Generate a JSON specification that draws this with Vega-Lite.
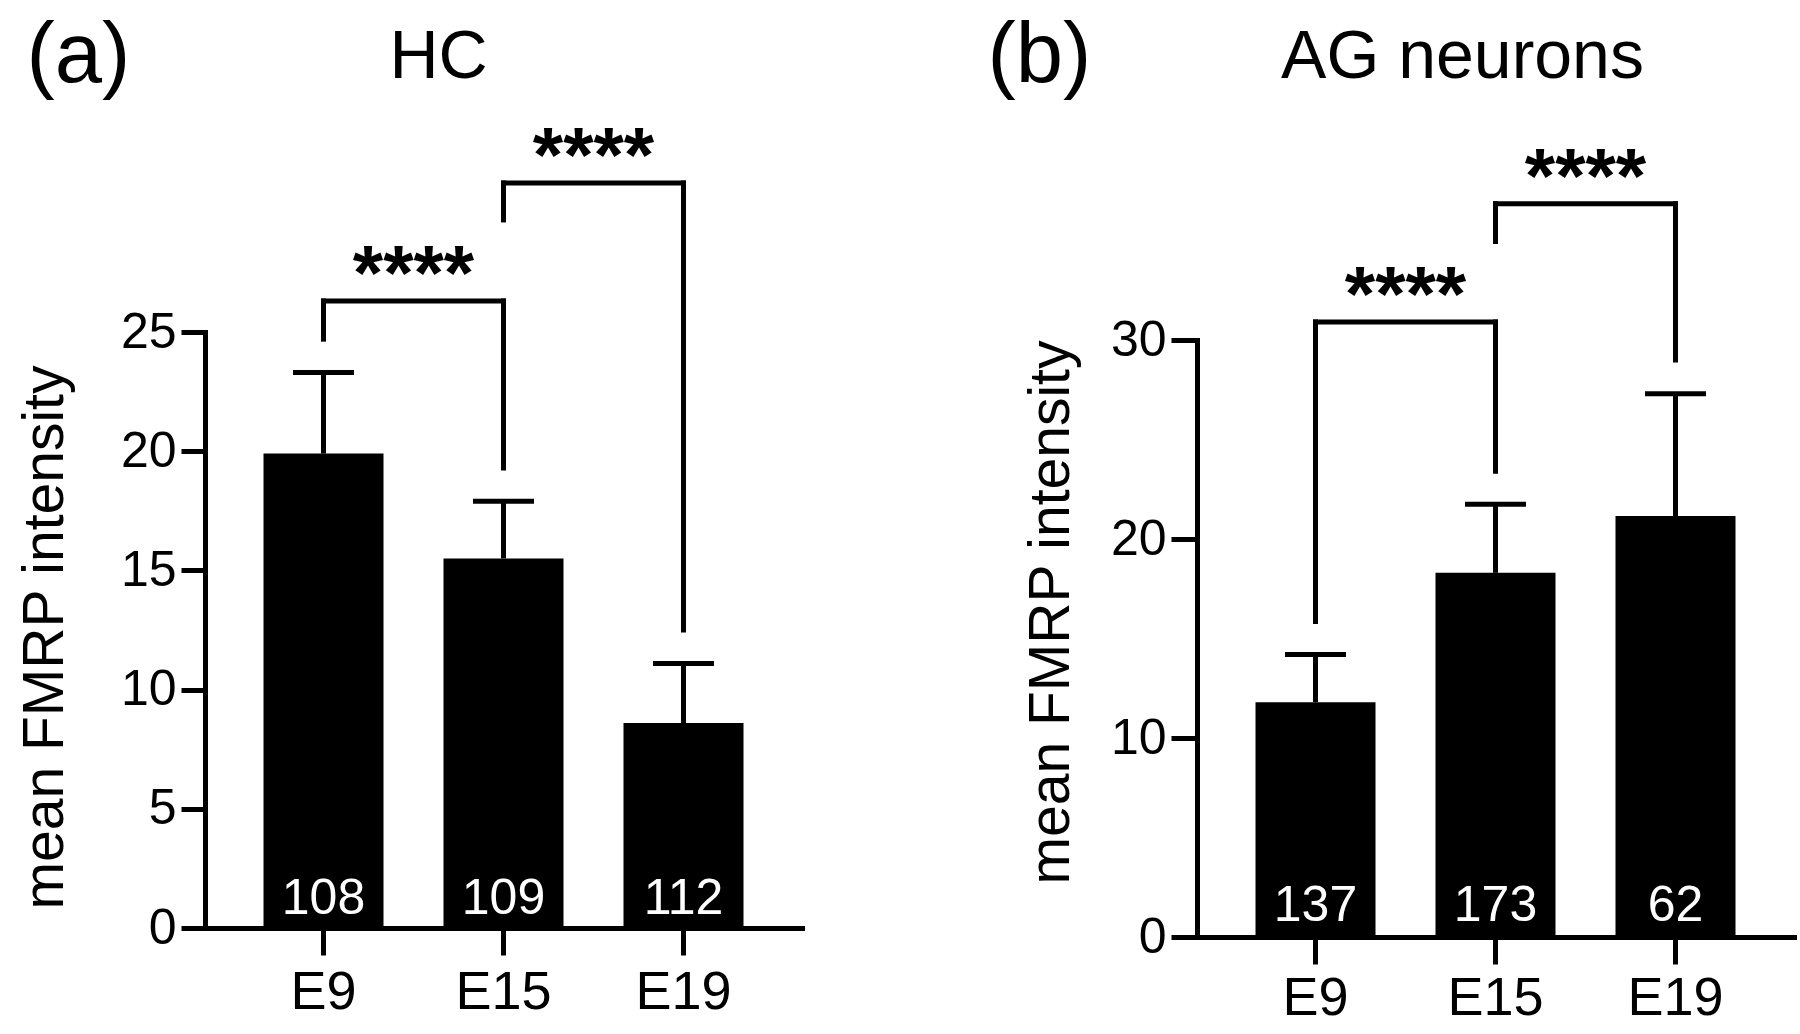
{
  "$schema": "https://vega.github.io/schema/vega-lite/v6.json",
  "autosize": {"type": "none"},
  "padding": {"left": 205, "top": 332, "right": 1595, "bottom": 702},
  "background": "white",
  "bounds": "flush",
  "spacing": 395,
  "config": {
    "view": {"stroke": null},
    "font": "Liberation Sans",
    "axis": {
      "domainWidth": 5, "domainColor": "black", "domainCap": "square",
      "tickWidth": 5, "tickColor": "black",
      "labelColor": "black", "titleColor": "black",
      "labelFont": "Liberation Sans", "titleFont": "Liberation Sans",
      "grid": false, "titleFontWeight": "normal"
    }
  },
  "datasets": {
    "a": [
      {"stage": "E9", "mean": 19.9, "upper": 23.3, "n": "108"},
      {"stage": "E15", "mean": 15.5, "upper": 17.9, "n": "109"},
      {"stage": "E19", "mean": 8.6, "upper": 11.1, "n": "112"}
    ],
    "bra": [
      {"from": "E9", "to": "E15", "top": 26.3, "leftEnd": 24.7, "rightEnd": 19.3, "sig": "****"},
      {"from": "E15", "to": "E19", "top": 31.25, "leftEnd": 29.7, "rightEnd": 12.5, "sig": "****"}
    ],
    "b": [
      {"stage": "E9", "mean": 11.8, "upper": 14.2, "n": "137"},
      {"stage": "E15", "mean": 18.3, "upper": 21.75, "n": "173"},
      {"stage": "E19", "mean": 21.15, "upper": 27.3, "n": "62"}
    ],
    "brb": [
      {"from": "E9", "to": "E15", "top": 30.9, "leftEnd": 15.85, "rightEnd": 23.4, "sig": "****"},
      {"from": "E15", "to": "E19", "top": 36.85, "leftEnd": 34.95, "rightEnd": 29.0, "sig": "****"}
    ]
  },
  "hconcat": [
    {
      "width": 597, "height": 596,
      "resolve": {"axis": {"x": "independent"}},
      "layer": [
        {
          "data": {"name": "a"},
          "mark": {"type": "bar", "color": "black", "opacity": 1},
          "encoding": {
            "x": {"field": "stage", "type": "nominal",
              "scale": {"domain": ["E9", "E15", "E19"], "paddingInner": 0.3333, "paddingOuter": 0.325},
              "axis": {"orient": "bottom", "title": "(a)", "titleX": -179, "titleY": -847, "titleAlign": "left", "titleBaseline": "alphabetic", "titleAngle": 0, "titleFontSize": 85,
                "labelAngle": 0, "labelFontSize": 54, "labelPadding": 53, "labelBaseline": "alphabetic", "tickSize": 27}},
            "y": {"field": "mean", "type": "quantitative",
              "scale": {"domain": [0, 25], "nice": false, "zero": true},
              "axis": {"values": [0, 5, 10, 15, 20, 25], "tickSize": 24, "labelFontSize": 50, "labelPadding": 5,
                "title": "mean FMRP intensity", "titleFontSize": 57, "titleX": -143, "titleY": 305, "titleAngle": -90, "titleBaseline": "alphabetic", "titleAlign": "center"}}
          }
        },
        {
          "data": {"name": "a"},
          "mark": {"type": "rule", "strokeWidth": 5, "color": "black", "opacity": 1},
          "encoding": {
            "x": {"field": "stage", "type": "nominal", "axis": null},
            "y": {"field": "mean", "type": "quantitative"},
            "y2": {"field": "upper"}
          }
        },
        {
          "data": {"name": "a"},
          "mark": {"type": "tick", "size": 61, "thickness": 5, "color": "black", "opacity": 1},
          "encoding": {
            "x": {"field": "stage", "type": "nominal",
              "axis": {"orient": "top", "title": "HC", "domain": false, "ticks": false, "labels": false, "titleX": 233, "titleY": -255, "titleAlign": "center", "titleBaseline": "alphabetic", "titleAngle": 0, "titleFontSize": 68}},
            "y": {"field": "upper", "type": "quantitative"}
          }
        },
        {
          "data": {"name": "a"},
          "mark": {"type": "text", "color": "white", "fontSize": 50, "baseline": "alphabetic", "dy": -14},
          "encoding": {
            "x": {"field": "stage", "type": "nominal", "axis": null},
            "y": {"datum": 0},
            "text": {"field": "n"}
          }
        },
        {
          "data": {"name": "bra"},
          "mark": {"type": "rule", "strokeWidth": 5, "color": "black", "strokeCap": "square", "opacity": 1},
          "encoding": {
            "x": {"field": "from", "type": "nominal", "axis": null, "bandPosition": 0.5},
            "x2": {"field": "to", "bandPosition": 0.5},
            "y": {"field": "top", "type": "quantitative"}
          }
        },
        {
          "data": {"name": "bra"},
          "mark": {"type": "rule", "strokeWidth": 5, "color": "black", "strokeCap": "square", "opacity": 1},
          "encoding": {
            "x": {"field": "from", "type": "nominal", "axis": null, "bandPosition": 0.5},
            "y": {"field": "leftEnd", "type": "quantitative"},
            "y2": {"field": "top"}
          }
        },
        {
          "data": {"name": "bra"},
          "mark": {"type": "rule", "strokeWidth": 5, "color": "black", "strokeCap": "square", "opacity": 1},
          "encoding": {
            "x": {"field": "to", "type": "nominal", "axis": null, "bandPosition": 0.5},
            "y": {"field": "rightEnd", "type": "quantitative"},
            "y2": {"field": "top"}
          }
        },
        {
          "data": {"name": "bra"},
          "mark": {"type": "text", "fontSize": 78, "fontWeight": "bold", "baseline": "alphabetic", "align": "center", "dy": -1, "color": "black"},
          "encoding": {
            "x": {"field": "from", "type": "nominal", "axis": null, "bandPosition": 1.25},
            "y": {"field": "top", "type": "quantitative"},
            "text": {"field": "sig"}
          }
        }
      ]
    },
    {
      "width": 597, "height": 605,
      "resolve": {"axis": {"x": "independent"}},
      "layer": [
        {
          "data": {"name": "b"},
          "mark": {"type": "bar", "color": "black", "opacity": 1},
          "encoding": {
            "x": {"field": "stage", "type": "nominal",
              "scale": {"domain": ["E9", "E15", "E19"], "paddingInner": 0.3333, "paddingOuter": 0.325},
              "axis": {"orient": "bottom", "title": "(b)", "titleX": -210, "titleY": -856, "titleAlign": "left", "titleBaseline": "alphabetic", "titleAngle": 0, "titleFontSize": 85,
                "labelAngle": 0, "labelFontSize": 54, "labelPadding": 50, "labelBaseline": "alphabetic", "tickSize": 27}},
            "y": {"field": "mean", "type": "quantitative",
              "scale": {"domain": [0, 30], "nice": false, "zero": true, "range": [605, 8]},
              "axis": {"values": [0, 10, 20, 30], "tickSize": 26, "labelFontSize": 50, "labelPadding": 5,
                "title": "mean FMRP intensity", "titleFontSize": 57, "titleX": -129, "titleY": 280, "titleAngle": -90, "titleBaseline": "alphabetic", "titleAlign": "center"}}
          }
        },
        {
          "data": {"name": "b"},
          "mark": {"type": "rule", "strokeWidth": 5, "color": "black", "opacity": 1},
          "encoding": {
            "x": {"field": "stage", "type": "nominal", "axis": null},
            "y": {"field": "mean", "type": "quantitative"},
            "y2": {"field": "upper"}
          }
        },
        {
          "data": {"name": "b"},
          "mark": {"type": "tick", "size": 61, "thickness": 5, "color": "black", "opacity": 1},
          "encoding": {
            "x": {"field": "stage", "type": "nominal",
              "axis": {"orient": "top", "title": "AG neurons", "domain": false, "ticks": false, "labels": false, "titleX": 265, "titleY": -255, "titleAlign": "center", "titleBaseline": "alphabetic", "titleAngle": 0, "titleFontSize": 68}},
            "y": {"field": "upper", "type": "quantitative"}
          }
        },
        {
          "data": {"name": "b"},
          "mark": {"type": "text", "color": "white", "fontSize": 50, "baseline": "alphabetic", "dy": -16},
          "encoding": {
            "x": {"field": "stage", "type": "nominal", "axis": null},
            "y": {"datum": 0},
            "text": {"field": "n"}
          }
        },
        {
          "data": {"name": "brb"},
          "mark": {"type": "rule", "strokeWidth": 5, "color": "black", "strokeCap": "square", "opacity": 1},
          "encoding": {
            "x": {"field": "from", "type": "nominal", "axis": null, "bandPosition": 0.5},
            "x2": {"field": "to", "bandPosition": 0.5},
            "y": {"field": "top", "type": "quantitative"}
          }
        },
        {
          "data": {"name": "brb"},
          "mark": {"type": "rule", "strokeWidth": 5, "color": "black", "strokeCap": "square", "opacity": 1},
          "encoding": {
            "x": {"field": "from", "type": "nominal", "axis": null, "bandPosition": 0.5},
            "y": {"field": "leftEnd", "type": "quantitative"},
            "y2": {"field": "top"}
          }
        },
        {
          "data": {"name": "brb"},
          "mark": {"type": "rule", "strokeWidth": 5, "color": "black", "strokeCap": "square", "opacity": 1},
          "encoding": {
            "x": {"field": "to", "type": "nominal", "axis": null, "bandPosition": 0.5},
            "y": {"field": "rightEnd", "type": "quantitative"},
            "y2": {"field": "top"}
          }
        },
        {
          "data": {"name": "brb"},
          "mark": {"type": "text", "fontSize": 78, "fontWeight": "bold", "baseline": "alphabetic", "align": "center", "dy": -1, "color": "black"},
          "encoding": {
            "x": {"field": "from", "type": "nominal", "axis": null, "bandPosition": 1.25},
            "y": {"field": "top", "type": "quantitative"},
            "text": {"field": "sig"}
          }
        }
      ]
    }
  ]
}
